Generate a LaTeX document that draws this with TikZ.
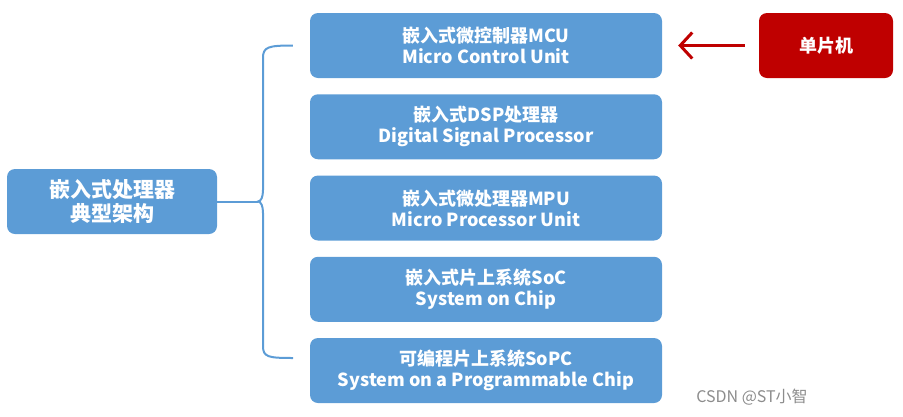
\documentclass[tikz,border=0pt]{standalone}
\usepackage{fontspec}
\usepackage{xcolor}
\usepackage{tikz}
\usetikzlibrary{arrows.meta}
\setmainfont{Noto Sans CJK SC}
\definecolor{boxblue}{rgb}{0.36, 0.61, 0.84}
\definecolor{chipred}{rgb}{0.75, 0.0, 0.0}
\definecolor{markgray}{rgb}{0.55, 0.55, 0.55}

\begin{document}
\begin{tikzpicture}[
    x=1pt, y=-1pt,
    % one style for all the blue boxes
    archbox/.style={
        fill=boxblue,
        draw=none,
        rounded corners=8pt,
        text=white,
        align=center,
        inner sep=0pt,
        minimum height=65pt,
        font=\fontsize{18}{21}\selectfont\bfseries
    },
    rootbox/.style={
        archbox,
        minimum width=210pt,
        font=\fontsize{21}{24}\selectfont\bfseries
    },
    chipbox/.style={
        archbox,
        fill=chipred,
        minimum width=134pt,
        font=\fontsize{18}{21}\selectfont\bfseries
    },
    brace/.style={draw=boxblue, line width=2pt}
]
    \useasboundingbox (0,0) rectangle (903,416);

    % Root of the tree
    \node(root)[rootbox] at (112,201.5) {嵌入式处理器\\典型架构};

    % The five architectures, stacked top to bottom
    \foreach \i/\cn/\en in {
        1/嵌入式微控制器MCU/Micro Control Unit,
        2/嵌入式DSP处理器/Digital Signal Processor,
        3/嵌入式微处理器MPU/Micro Processor Unit,
        4/嵌入式片上系统SoC/System on Chip,
        5/可编程片上系统SoPC/System on a Programmable Chip} {
        \node(box-\i)[archbox, minimum width=352pt] at (486, 45.5 + \i*81.25 - 81.25) {\cn\\\en};
    }

    % --- BRACE ---
    \coordinate (tip) at (258,201.5);
    \draw[brace] (root.east) -- (tip);
    \draw[brace] (box-1.west |- box-1.center) ++(-17,0) coordinate (top)
        .. controls (268,45.5) and (263,47) .. (263,58) -- (263,190)
        .. controls (263,197) and (261,201.5) .. (tip)
        .. controls (261,201.5) and (263,206) .. (263,213) -- (263,346)
        .. controls (263,357) and (268,358) .. (293,358) coordinate (bottom);

    % Single-chip computer = MCU
    \node(chip)[chipbox] at (826,45.5) {单片机};
    \draw[-{Straight Barb[length=12pt, width=26pt]}, chipred, line width=3pt,
        shorten <=14pt, shorten >=16pt] (chip.west) -- (box-1.east);

    % watermark
    \node(mark)[text=markgray, font=\fontsize{16}{18}\selectfont] at (752,397) {CSDN @ST小智};
\end{tikzpicture}
\end{document}
